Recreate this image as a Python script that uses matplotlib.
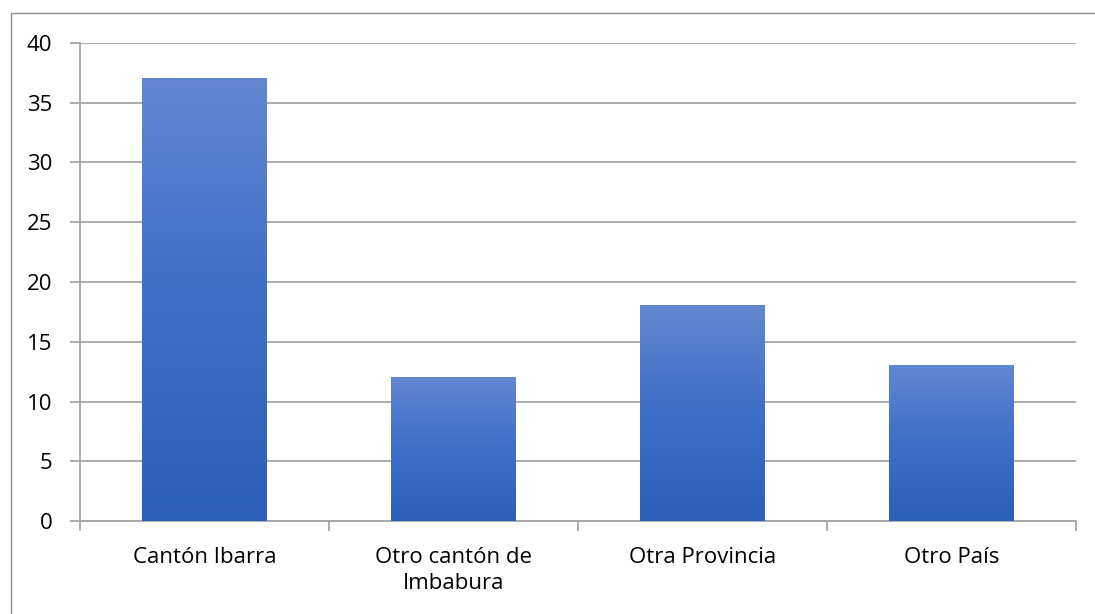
import numpy as np
import matplotlib
matplotlib.use("Agg")
import matplotlib.pyplot as plt
from matplotlib.patches import Rectangle
from matplotlib.colors import LinearSegmentedColormap

categories = ["Cantón Ibarra", "Otro cantón de\nImbabura", "Otra Provincia", "Otro País"]
values = [37, 12, 18, 13]
yticks = [0, 5, 10, 15, 20, 25, 30, 35, 40]

plt.rcParams["font.family"] = ["Open Sans", "DejaVu Sans"]
GRID = "#a6a6a6"
cmap = LinearSegmentedColormap.from_list("bar", ["#2c5fba", "#3e6ec8", "#6287d0"])

fig = plt.figure(figsize=(10.95, 6.14), dpi=100)
# outer chart border (only left/top visible in the crop)
fig.patches.append(Rectangle((11 / 1095, -0.1), 1.2, 1 - 13 / 614 + 0.1,
                             transform=fig.transFigure, fill=False,
                             edgecolor="#8c8c8c", lw=1.0))
ax = fig.add_axes([80 / 1095, 1 - 521 / 614, 996 / 1095, 478 / 614])

x = np.arange(len(categories))
bars = ax.bar(x, values, width=0.5, color="none", zorder=3)
grad = np.linspace(0, 1, 256).reshape(-1, 1)
for b in bars:
    x0, y0 = b.get_x(), b.get_y()
    w, h = b.get_width(), b.get_height()
    ax.imshow(grad, cmap=cmap, aspect="auto", origin="lower",
              extent=(x0, x0 + w, y0, y0 + h), zorder=3)

ax.set_xlim(-0.5, len(categories) - 0.5)
ax.set_ylim(0, 40)
ax.set_yticks(yticks)
ax.yaxis.grid(True, color=GRID, lw=1.3, zorder=0)
ax.set_axisbelow(True)

ax.set_xticks(x)
ax.set_xticklabels(categories, fontsize=16, linespacing=1.3)
ax.set_xticks(np.arange(len(categories) + 1) - 0.5, minor=True)
ax.tick_params(axis="x", which="major", length=0, pad=19)
ax.tick_params(axis="x", which="minor", length=7, color=GRID, width=1.3)
ax.tick_params(axis="y", length=7, color=GRID, width=1.3, pad=13, labelsize=16)

for s in ("top", "right"):
    ax.spines[s].set_visible(False)
for s in ("left", "bottom"):
    ax.spines[s].set_color(GRID)
    ax.spines[s].set_linewidth(1.3)

fig.savefig("out.png", dpi=100)
